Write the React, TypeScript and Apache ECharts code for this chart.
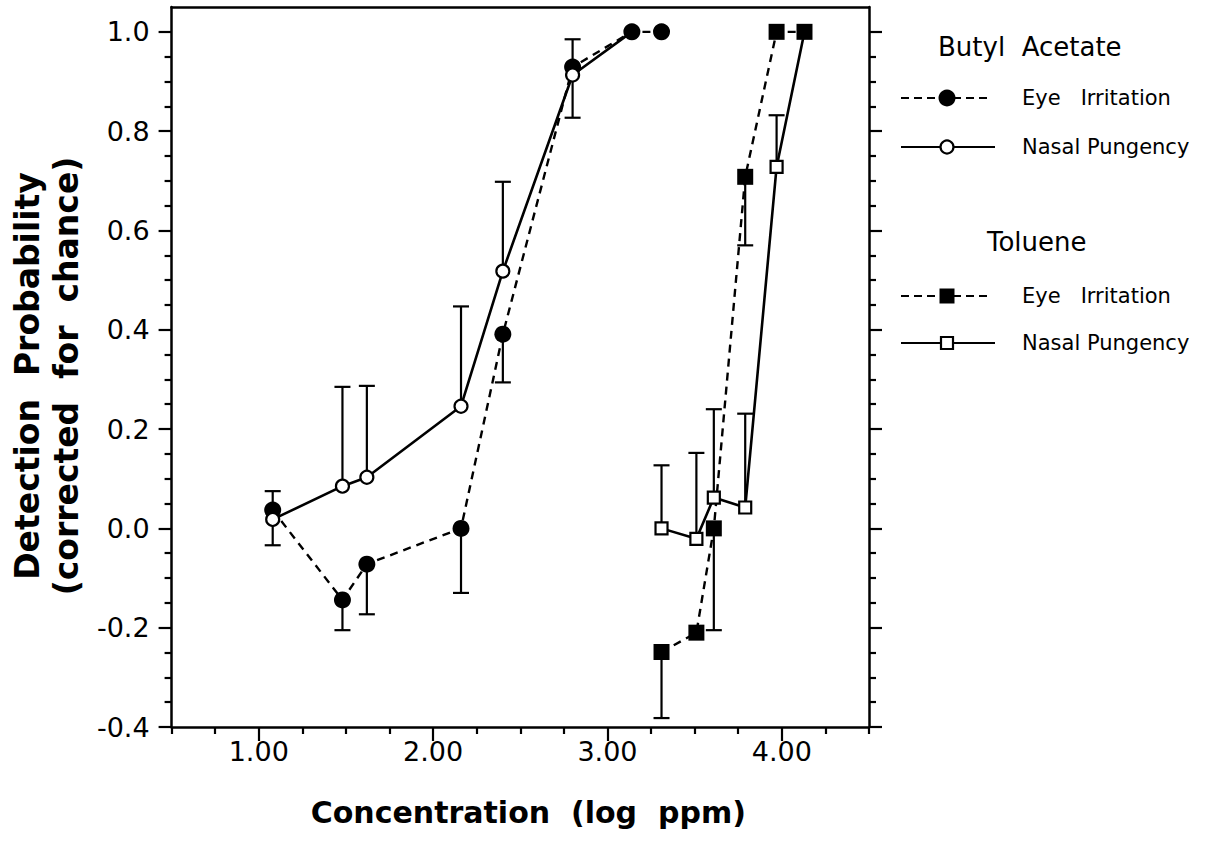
import React, { useEffect, useRef } from "react";
import * as echarts from "echarts";

// ---- Butyl Acetate ----
const baEyeX = [1.08, 1.48, 1.62, 2.16, 2.4, 2.8, 3.14, 3.31];
const baEyeY = [0.037, -0.144, -0.072, 0.0, 0.391, 0.929, 1.0, 1.0];
const baEyeLow = [-0.034, -0.205, -0.173, -0.13, 0.294, 0.827, null, null];

const baNasalX = [1.08, 1.48, 1.62, 2.16, 2.4, 2.8, 3.14];
const baNasalY = [0.018, 0.085, 0.103, 0.246, 0.518, 0.913, 1.0];
const baNasalHigh = [0.075, 0.285, 0.287, 0.447, 0.698, 0.985, null];

// ---- Toluene ----
const tolEyeX = [3.31, 3.51, 3.61, 3.79, 3.97, 4.13];
const tolEyeY = [-0.249, -0.21, 0.0, 0.708, 1.0, 1.0];
const tolEyeLow = [-0.382, null, -0.205, 0.57, null, null];

const tolNasalX = [3.31, 3.51, 3.61, 3.79, 3.97, 4.13];
const tolNasalY = [0.0, -0.021, 0.062, 0.042, 0.728, 1.0];
const tolNasalHigh = [0.127, 0.152, 0.24, 0.231, 0.832, null];

// ---- Axes ----
const xMajorTicks = [1, 2, 3, 4];
const xMinorTicks = [0.5, 0.75, 1.25, 1.5, 1.75, 2.25, 2.5, 2.75, 3.25, 3.5, 3.75, 4.25, 4.5];
const yMajorTicks = [-0.4, -0.2, 0, 0.2, 0.4, 0.6, 0.8, 1.0];
const yMinorTicks = [
  -0.35, -0.3, -0.25, -0.15, -0.1, -0.05, 0.05, 0.1, 0.15, 0.25, 0.3, 0.35,
  0.45, 0.5, 0.55, 0.65, 0.7, 0.75, 0.85, 0.9, 0.95,
];

const xTitle = "Concentration  (log  ppm)";
const yTitle = "Detection  Probability\n(corrected  for  chance)";
const legendTitles = ["Butyl  Acetate", "Toluene"];
const legendLabels = ["Eye   Irritation", "Nasal Pungency"];

const FONT = '"DejaVu Sans", Verdana, sans-serif';
const X_MIN = 0.5;
const X_MAX = 4.5;
const Y_MIN = -0.4;
const Y_MAX = 1.05;

function pairs(xs: number[], ys: number[]) {
  return xs.map((x, i) => [x, ys[i]]);
}

function errorSeries(xs: number[], ys: number[], ends: (number | null)[]) {
  const data: number[][] = [];
  xs.forEach((x, i) => {
    const e = ends[i];
    if (e !== null && e !== undefined) data.push([x, ys[i], e]);
  });
  return {
    type: "custom",
    xAxisIndex: 0,
    yAxisIndex: 0,
    z: 1,
    silent: true,
    data,
    encode: { x: 0, y: [1, 2] },
    renderItem: (_params: any, api: any) => {
      const x = api.value(0);
      const p0 = api.coord([x, api.value(1)]);
      const p1 = api.coord([x, api.value(2)]);
      const half = 8;
      const st = { stroke: "#000", lineWidth: 2.2, fill: "none" };
      return {
        type: "group",
        children: [
          { type: "line", shape: { x1: p0[0], y1: p0[1], x2: p1[0], y2: p1[1] }, style: st },
          { type: "line", shape: { x1: p1[0] - half, y1: p1[1], x2: p1[0] + half, y2: p1[1] }, style: st },
        ],
      };
    },
  };
}

function hiddenWhereCovered(xs: number[], ys: number[], coverX: number[], coverY: number[]) {
  return xs.map((x, i) => {
    const covered = coverX.some((cx, j) => cx === x && coverY[j] === ys[i]);
    return covered ? { value: [x, ys[i]], symbol: "none" } : { value: [x, ys[i]] };
  });
}

export default function App() {
  const ref = useRef<HTMLDivElement>(null);

  useEffect(() => {
    if (!ref.current) return;
    const chart = echarts.init(ref.current, undefined, { renderer: "svg" });

    const axisLineStyle = { color: "#000", width: 2.5 };
    const tickStyle = { color: "#000", width: 2.2 };

    const filledCircle = { color: "#000" };
    const openStyle = { color: "#fff", borderColor: "#000", borderWidth: 2.2 };
    const dashed = { color: "#000", width: 2.4, type: [8, 6] as any };
    const solid = { color: "#000", width: 2.6, type: "solid" };

    const hiddenAxis = {
      axisLabel: { show: false },
      splitLine: { show: false },
    };

    const option: any = {
      animation: false,
      backgroundColor: "#fff",
      grid: { left: 169, right: 342, top: 7, bottom: 115, containLabel: false },
      xAxis: [
        {
          type: "value",
          position: "bottom",
          min: X_MIN,
          max: X_MAX,
          axisLine: { show: true, onZero: false, lineStyle: axisLineStyle },
          axisTick: { show: true, customValues: xMajorTicks, length: 14, lineStyle: tickStyle },
          axisLabel: {
            show: true,
            customValues: xMajorTicks,
            formatter: (v: number) => v.toFixed(2),
            fontSize: 27,
            fontFamily: FONT,
            color: "#000",
            margin: 11,
          },
          splitLine: { show: false },
          name: xTitle,
          nameLocation: "middle",
          nameGap: 70,
          nameTextStyle: {
            fontSize: 30,
            fontWeight: "bold",
            fontFamily: FONT,
            color: "#000",
            padding: [0, 0, 0, 16],
          },
        },
        {
          type: "value",
          position: "bottom",
          min: X_MIN,
          max: X_MAX,
          axisLine: { show: false, onZero: false },
          axisTick: { show: true, customValues: xMinorTicks, length: 7, lineStyle: tickStyle },
          ...hiddenAxis,
        },
        {
          type: "value",
          position: "top",
          min: X_MIN,
          max: X_MAX,
          axisLine: { show: true, onZero: false, lineStyle: axisLineStyle },
          axisTick: { show: false },
          ...hiddenAxis,
        },
      ],
      yAxis: [
        {
          type: "value",
          position: "left",
          min: Y_MIN,
          max: Y_MAX,
          axisLine: { show: true, onZero: false, lineStyle: axisLineStyle },
          axisTick: { show: true, customValues: yMajorTicks, length: 13, lineStyle: tickStyle },
          axisLabel: {
            show: true,
            customValues: yMajorTicks,
            formatter: (v: number) => v.toFixed(1),
            fontSize: 27,
            fontFamily: FONT,
            color: "#000",
            margin: 22,
          },
          splitLine: { show: false },
          name: yTitle,
          nameLocation: "middle",
          nameGap: 84,
          nameRotate: 90,
          nameTextStyle: {
            fontSize: 33,
            fontWeight: "bold",
            fontFamily: FONT,
            color: "#000",
            lineHeight: 39,
            padding: [0, 18, 0, 0],
          },
        },
        {
          type: "value",
          position: "left",
          min: Y_MIN,
          max: Y_MAX,
          axisLine: { show: false, onZero: false },
          axisTick: { show: true, customValues: yMinorTicks, length: 7, lineStyle: tickStyle },
          ...hiddenAxis,
        },
        {
          type: "value",
          position: "right",
          min: Y_MIN,
          max: Y_MAX,
          axisLine: { show: true, onZero: false, lineStyle: axisLineStyle },
          axisTick: { show: true, customValues: yMajorTicks, length: 13, lineStyle: tickStyle },
          ...hiddenAxis,
        },
        {
          type: "value",
          position: "right",
          min: Y_MIN,
          max: Y_MAX,
          axisLine: { show: false, onZero: false },
          axisTick: { show: true, customValues: yMinorTicks, length: 7, lineStyle: tickStyle },
          ...hiddenAxis,
        },
      ],
      series: [
        errorSeries(baEyeX, baEyeY, baEyeLow),
        errorSeries(baNasalX, baNasalY, baNasalHigh),
        errorSeries(tolEyeX, tolEyeY, tolEyeLow),
        errorSeries(tolNasalX, tolNasalY, tolNasalHigh),
        {
          name: "Butyl Acetate Eye Irritation",
          type: "line",
          xAxisIndex: 0,
          yAxisIndex: 0,
          z: 2,
          data: pairs(baEyeX, baEyeY),
          symbol: "circle",
          symbolSize: 17,
          showAllSymbol: true,
          itemStyle: filledCircle,
          lineStyle: dashed,
        },
        {
          name: "Toluene Eye Irritation",
          type: "line",
          xAxisIndex: 0,
          yAxisIndex: 0,
          z: 2,
          data: pairs(tolEyeX, tolEyeY),
          symbol: "rect",
          symbolSize: 16,
          showAllSymbol: true,
          itemStyle: filledCircle,
          lineStyle: dashed,
        },
        {
          name: "Butyl Acetate Nasal Pungency",
          type: "line",
          xAxisIndex: 0,
          yAxisIndex: 0,
          z: 3,
          data: hiddenWhereCovered(baNasalX, baNasalY, baEyeX, baEyeY),
          symbol: "circle",
          symbolSize: 13,
          showAllSymbol: true,
          itemStyle: openStyle,
          lineStyle: solid,
        },
        {
          name: "Toluene Nasal Pungency",
          type: "line",
          xAxisIndex: 0,
          yAxisIndex: 0,
          z: 3,
          data: hiddenWhereCovered(tolNasalX, tolNasalY, tolEyeX, tolEyeY),
          symbol: "rect",
          symbolSize: 12,
          showAllSymbol: true,
          itemStyle: openStyle,
          lineStyle: solid,
        },
      ],
      graphic: [
        // Butyl Acetate legend
        {
          type: "text", x: 938, y: 47,
          style: { text: legendTitles[0], fontSize: 26, fontFamily: FONT, fill: "#000", verticalAlign: "middle", textVerticalAlign: "middle" },
        },
        { type: "line", shape: { x1: 901, y1: 98, x2: 987, y2: 98 }, style: { stroke: "#000", lineWidth: 2.2, lineDash: [8, 5] } },
        { type: "circle", shape: { cx: 947, cy: 98, r: 8.5 }, style: { fill: "#000" } },
        {
          type: "text", x: 1022, y: 98,
          style: { text: legendLabels[0], fontSize: 21, fontFamily: FONT, fill: "#000", verticalAlign: "middle", textVerticalAlign: "middle" },
        },
        { type: "line", shape: { x1: 901, y1: 147, x2: 995, y2: 147 }, style: { stroke: "#000", lineWidth: 2.2 } },
        { type: "circle", shape: { cx: 947, cy: 147, r: 6.5 }, style: { fill: "#fff", stroke: "#000", lineWidth: 2.2 } },
        {
          type: "text", x: 1022, y: 147,
          style: { text: legendLabels[1], fontSize: 21, fontFamily: FONT, fill: "#000", verticalAlign: "middle", textVerticalAlign: "middle" },
        },
        // Toluene legend
        {
          type: "text", x: 987, y: 242,
          style: { text: legendTitles[1], fontSize: 26, fontFamily: FONT, fill: "#000", verticalAlign: "middle", textVerticalAlign: "middle" },
        },
        { type: "line", shape: { x1: 901, y1: 296, x2: 987, y2: 296 }, style: { stroke: "#000", lineWidth: 2.2, lineDash: [8, 5] } },
        { type: "rect", shape: { x: 939.5, y: 288.5, width: 15, height: 15 }, style: { fill: "#000" } },
        {
          type: "text", x: 1022, y: 296,
          style: { text: legendLabels[0], fontSize: 21, fontFamily: FONT, fill: "#000", verticalAlign: "middle", textVerticalAlign: "middle" },
        },
        { type: "line", shape: { x1: 901, y1: 343, x2: 995, y2: 343 }, style: { stroke: "#000", lineWidth: 2.2 } },
        { type: "rect", shape: { x: 941, y: 337, width: 12, height: 12 }, style: { fill: "#fff", stroke: "#000", lineWidth: 2.2 } },
        {
          type: "text", x: 1022, y: 343,
          style: { text: legendLabels[1], fontSize: 21, fontFamily: FONT, fill: "#000", verticalAlign: "middle", textVerticalAlign: "middle" },
        },
      ],
    };

    chart.setOption(option);
    return () => {
      chart.dispose();
    };
  }, []);

  return (
    <div
      ref={ref}
      style={{ position: "fixed", left: 0, top: 0, width: 1211, height: 842, background: "#fff" }}
    />
  );
}
